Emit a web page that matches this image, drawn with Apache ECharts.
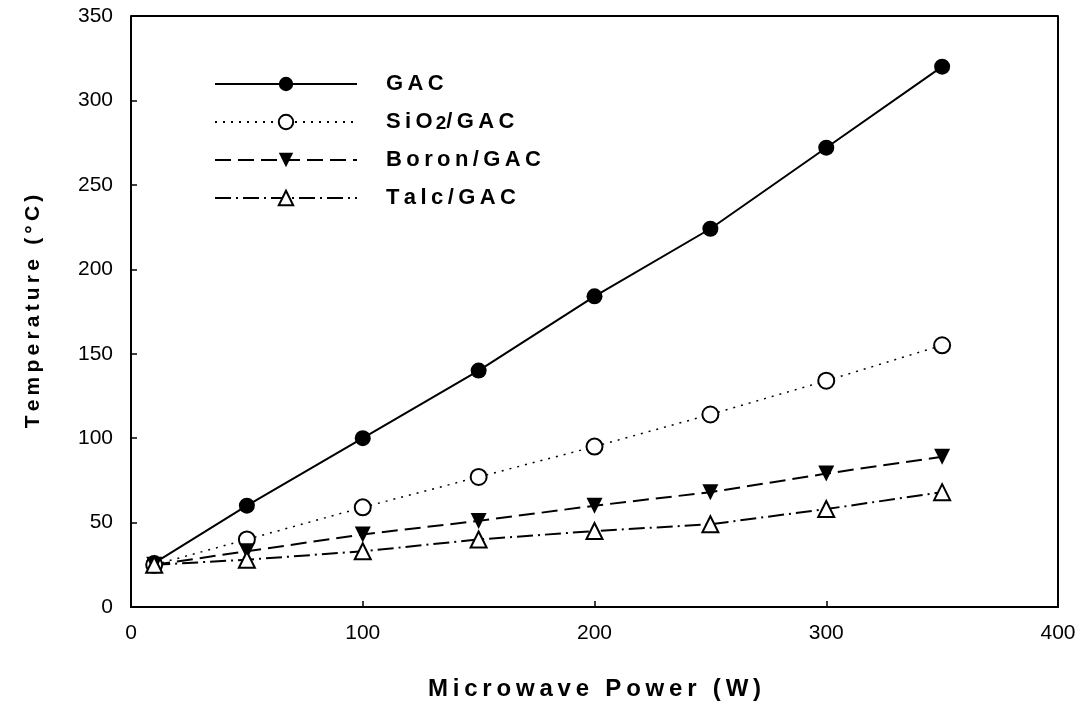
<!DOCTYPE html>
<html><head><meta charset="utf-8">
<script src="https://cdn.jsdelivr.net/npm/echarts@6/dist/echarts.min.js"></script>
<style>html,body{margin:0;padding:0;background:#fff}#c{width:1078px;height:703px}</style>
</head><body><div id="c"></div>
<script>
const power = [10, 50, 100, 150, 200, 250, 300, 350];
const gac = [26, 60, 100, 140, 184, 224, 272, 320];
const sio2 = [25, 40, 59, 77, 95, 114, 134, 155];
const boron = [25, 33, 43, 51, 60, 68, 79, 89];
const talc = [25, 28, 33, 40, 45, 49, 58, 68];
const xTicks = [0, 100, 200, 300, 400];
const yTicks = [0, 50, 100, 150, 200, 250, 300, 350];
const seriesNames = ['GAC', 'SiO2/GAC', 'Boron/GAC', 'Talc/GAC'];
const xTitle = 'Microwave Power (W)';
const yTitle = 'Temperature (\u00B0C)';

const sp = s => s.split('').join('\u2009');
const pair = a => power.map((p, i) => [p, a[i]]);
const FF = 'Liberation Sans';
const chart = echarts.init(document.getElementById('c'));
const base = {type: 'line', symbolSize: 16, z: 3};
chart.setOption({
  animation: false,
  backgroundColor: '#fff',
  grid: {left: 131, right: 20, top: 16, bottom: 96, outerBoundsMode: 'none', containLabel: false},
  legend: {
    orient: 'vertical', left: 209, top: 68, itemWidth: 142, itemHeight: 18, itemGap: 16,
    textStyle: {fontFamily: FF, fontWeight: 'bold', fontSize: 22, color: '#000', padding: [0, 0, 0, 24],
      rich: {
        n: {fontFamily: FF, fontWeight: 'bold', fontSize: 22, color: '#000', lineHeight: 22},
        sub: {fontFamily: FF, fontWeight: 'bold', fontSize: 19, color: '#000', lineHeight: 10, verticalAlign: 'bottom', padding: [0, 0, 0, 3]}
      }},
    formatter: n => n === 'SiO2/GAC' ? '{n|' + sp('SiO') + '}{sub|2}{n|' + sp('/GAC') + '}' : '{n|' + sp(n) + '}',
    data: seriesNames
  },
  xAxis: {
    type: 'value', min: 0, max: 400, interval: 100,
    name: sp(xTitle), nameLocation: 'middle', nameGap: 70,
    nameTextStyle: {fontFamily: FF, fontWeight: 'bold', fontSize: 24, color: '#000'},
    axisLine: {lineStyle: {color: '#000', width: 2}},
    axisTick: {inside: true, length: 6, lineStyle: {color: '#000', width: 1.5}},
    axisLabel: {fontFamily: FF, fontSize: 21, color: '#000', margin: 16, formatter: v => xTicks.includes(v) ? String(v) : ''},
    splitLine: {show: false}
  },
  yAxis: [{
    type: 'value', min: 0, max: 350, interval: 50,
    name: sp(yTitle), nameLocation: 'middle', nameGap: 87, nameRotate: 90,
    nameTextStyle: {fontFamily: FF, fontWeight: 'bold', fontSize: 21, color: '#000'},
    axisLine: {lineStyle: {color: '#000', width: 2}},
    axisTick: {inside: true, length: 6, lineStyle: {color: '#000', width: 1.5}},
    axisLabel: {fontFamily: FF, fontSize: 21, color: '#000', margin: 18, formatter: v => yTicks.includes(v) ? String(v) : ''},
    splitLine: {show: false}
  }, {
    type: 'value', min: 0, max: 350, interval: 50, position: 'right',
    axisLine: {show: true, lineStyle: {color: '#000', width: 2}},
    axisTick: {show: false}, axisLabel: {show: false}, splitLine: {show: false}
  }],
  graphic: [{type: 'line', shape: {x1: 131, y1: 16, x2: 1058, y2: 16}, style: {stroke: '#000', lineWidth: 2}}],
  series: [
    Object.assign({}, base, {name: seriesNames[0], data: pair(gac), symbol: 'circle',
      itemStyle: {color: '#000'}, lineStyle: {color: '#000', width: 2, type: 'solid'}}),
    Object.assign({}, base, {name: seriesNames[1], data: pair(sio2), symbol: 'circle',
      itemStyle: {color: '#fff', borderColor: '#000', borderWidth: 2}, lineStyle: {color: '#000', width: 1.5, type: [2, 6]}}),
    Object.assign({}, base, {name: seriesNames[2], data: pair(boron), symbol: 'triangle', symbolRotate: 180,
      itemStyle: {color: '#000'}, lineStyle: {color: '#000', width: 2, type: [16, 7]}}),
    Object.assign({}, base, {name: seriesNames[3], data: pair(talc), symbol: 'triangle',
      itemStyle: {color: '#fff', borderColor: '#000', borderWidth: 2}, lineStyle: {color: '#000', width: 2, type: [16, 5, 2, 5]}})
  ]
});
</script></body></html>
